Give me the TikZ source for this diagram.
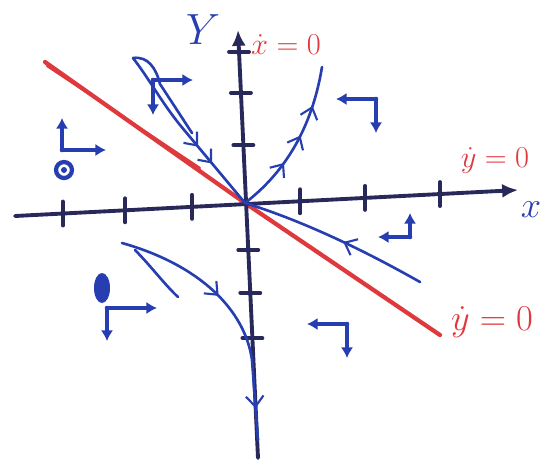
\documentclass[tikz,border=0pt]{standalone}
\usetikzlibrary{arrows.meta,calc,decorations.markings}
\definecolor{penblue}{RGB}{38,62,175}
\definecolor{penred}{RGB}{222,58,62}
\definecolor{pendark}{RGB}{40,40,90}
\tikzset{
  axisline/.style={pendark,line width=2.2pt,line cap=round},
  traj/.style={penblue,line width=1.5pt,line cap=round},
  nullcl/.style={penred,line width=2.4pt,line cap=round},
  marker/.style={penblue,line width=2.6pt,line cap=round,-{Latex[length=6pt,width=7pt]}},
  flowat/.style={postaction={decorate,decoration={markings,
    mark=at position #1 with {\arrow[penblue,line width=1.2pt]{Straight Barb[length=6pt,width=10pt]}}}}},
}
\newcommand{\dirmark}[3]{% L-shaped direction marker, corner at (#1)
  \draw[marker] (#1) -- ++(#2,0);
  \draw[marker] (#1) -- ++(0,#3);
}

\begin{document}
\begin{tikzpicture}[x=0.02cm,y=-0.02cm]
  \useasboundingbox (0,0) rectangle (541,461);
  \coordinate (O) at (245,203);
  \coordinate (xl) at (15,216);
  \coordinate (xr) at (518,190);
  \coordinate (yb) at (258,458);
  \coordinate (yt) at (238,30);
  % nullcline
  \draw[nullcl] (45,62) -- (O) -- (440,335);
  \draw[nullcl,line width=1.2pt] (47,66) -- (200,168);
  % axes and ticks
  \draw[axisline,-{Latex[length=9pt,width=8pt]}] (xl) -- (xr);
  \draw[axisline,-{Latex[length=9pt,width=8pt]}] (yb) -- (yt);
  \foreach \f in {0.095,0.219,0.352,0.567,0.696,0.845}
    \draw[axisline] ($(xl)!\f!(xr)+(0,-12)$) -- ++(0,24);
  \foreach \f in {0.051,0.147,0.269,0.514,0.614,0.720}
    \draw[axisline] ($(yb)!{1-\f}!(yt)+(-10,0)$) -- ++(20,0);
  % trajectories
  \draw[traj,flowat=0.6,flowat=0.72] (133,58) .. controls (150,80) and (160,100) .. (180,125) -- (O);
  \draw[traj] (133,58) .. controls (148,56) and (156,68) .. (160,84) -- (192,133);
  \draw[traj,flowat=0.35,flowat=0.55,flowat=0.75] (O) .. controls (275,180) and (310,140) .. (322,67);
  \draw[traj,flowat=0.45] (420,282) .. controls (360,248) and (300,220) .. (O);
  \draw[traj,flowat=0.42,flowat=0.88] (122,243) .. controls (200,265) and (245,310) .. (252,360) -- (258,440);
  \draw[traj] (135,250) .. controls (150,265) and (165,285) .. (178,297);
  % direction markers
  \dirmark{153,80}{40}{35}
  \dirmark{62,150}{44}{-32}
  \dirmark{376,99}{-40}{34}
  \dirmark{410,237}{-32}{-24}
  \dirmark{347,324}{-40}{34}
  \dirmark{107,308}{50}{33}
  \draw[penblue,line width=2.4pt] (64,170) circle (8);
  \fill[penblue] (64,170) circle (3);
  \fill[penblue] (102,288) ellipse (8 and 15);
  % labels
  \node[penblue,font=\Huge] (ylab) at (203,30) {$Y$};
  \node[penblue,font=\huge] (xlab) at (531,210) {$x$};
  \node[penred,font=\LARGE] (xdot) at (286,45) {$\dot{x}=0$};
  \node[penred,font=\LARGE] (ydotup) at (495,160) {$\dot{y}=0$};
  \node[penred,font=\huge] (ydotlow) at (492,322) {$\dot{y}=0$};
\end{tikzpicture}
\end{document}
